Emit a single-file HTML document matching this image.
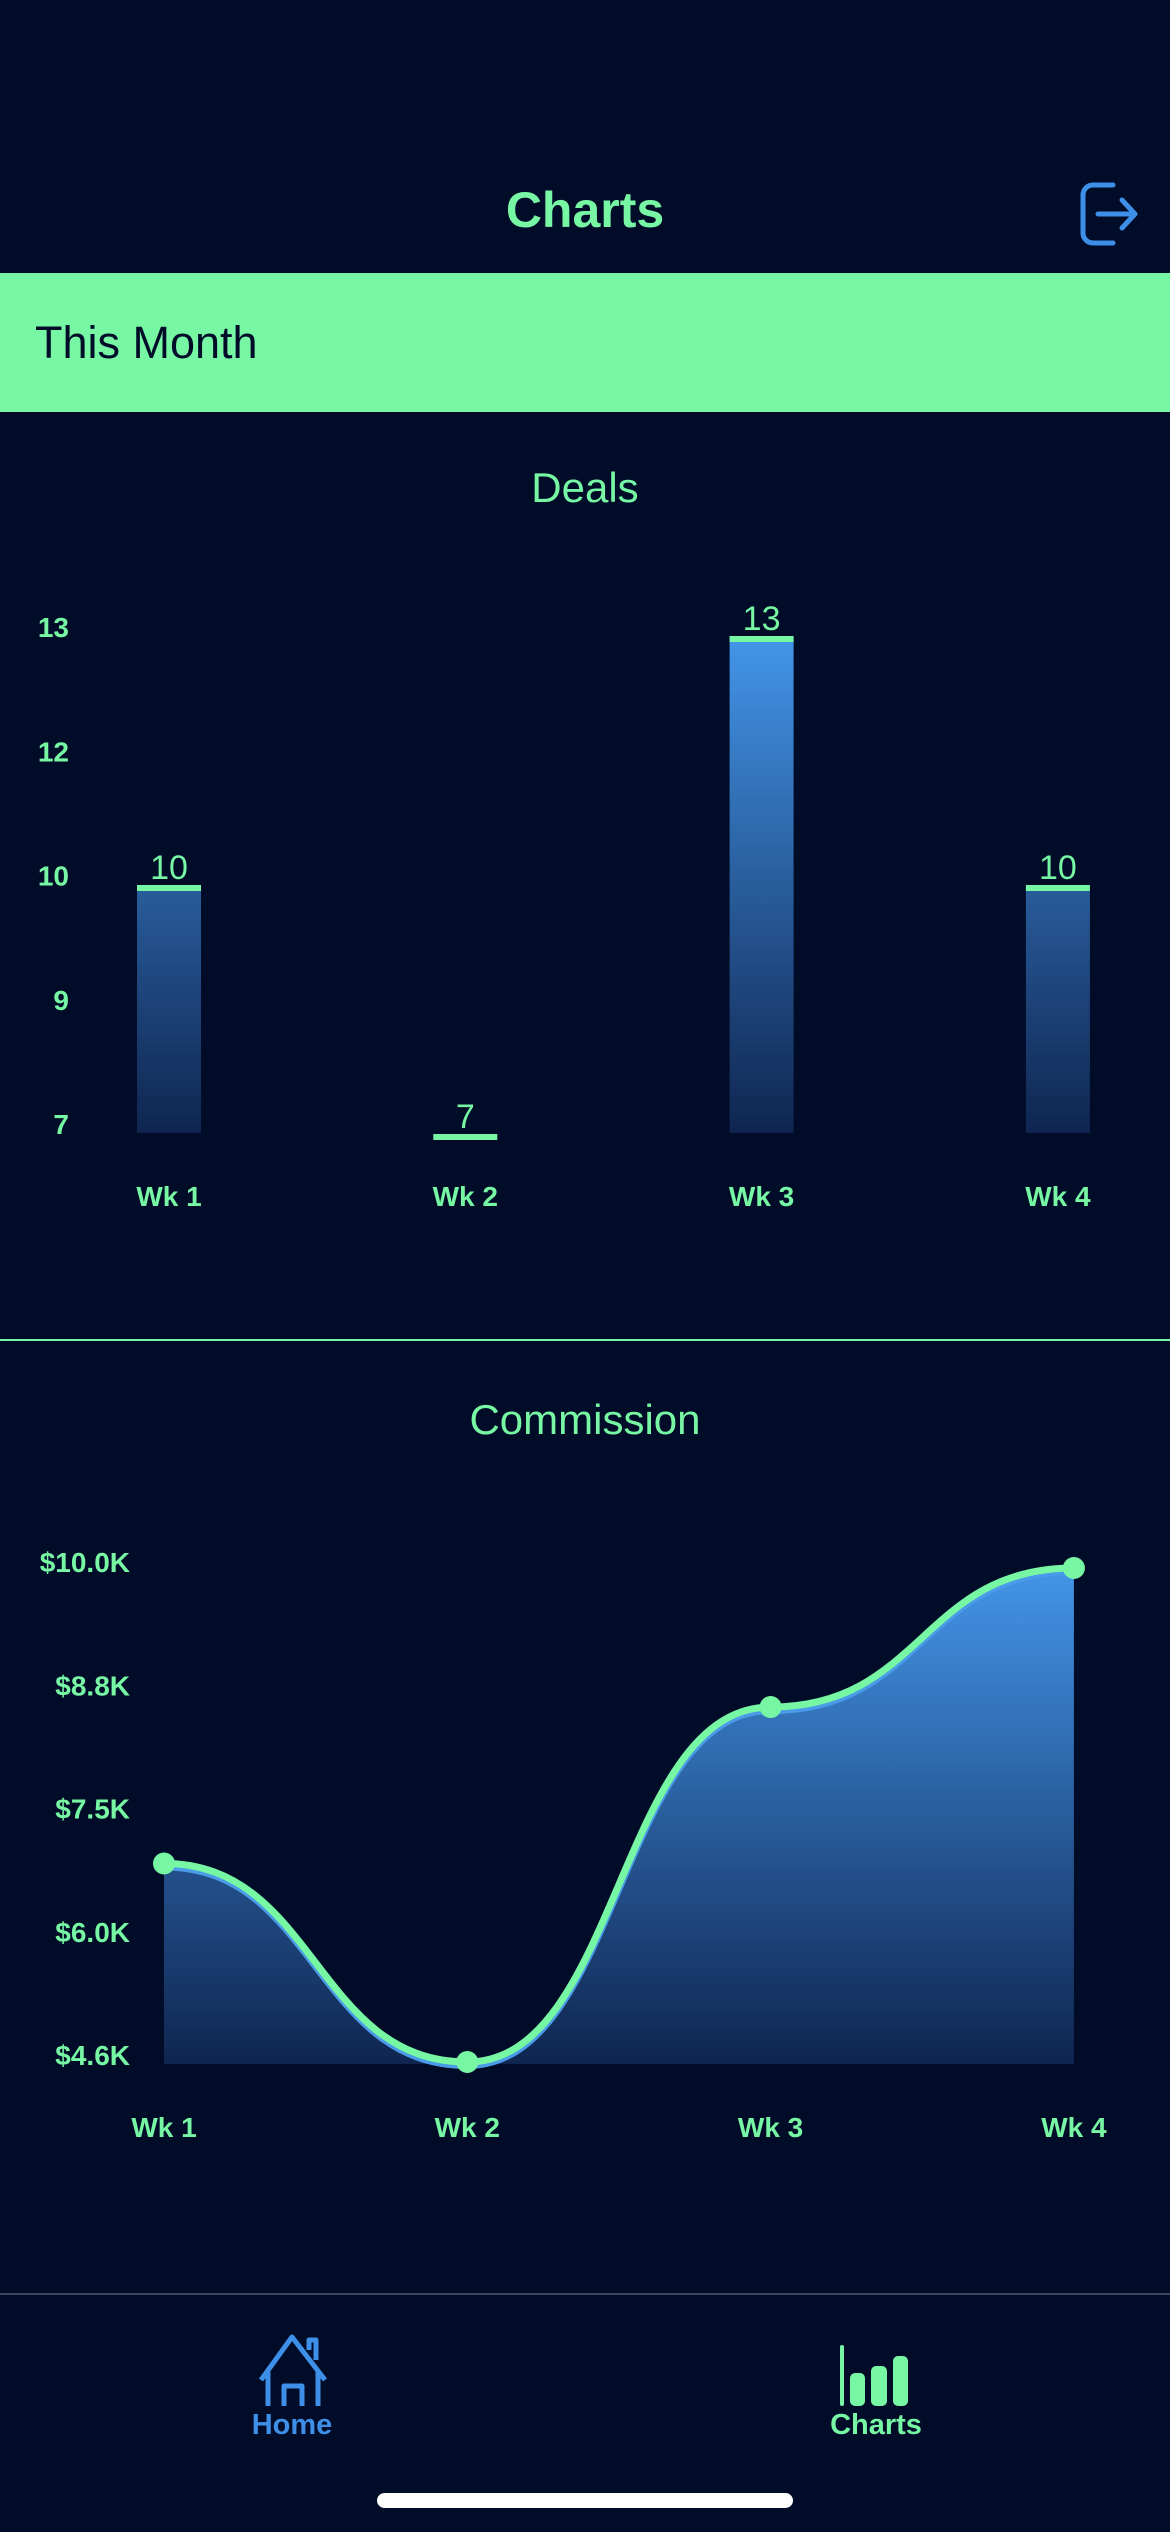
<!DOCTYPE html>
<html><head><meta charset="utf-8">
<style>
html,body{margin:0;padding:0;background:#000c28;}
body{width:1170px;height:2532px;overflow:hidden;font-family:"Liberation Sans",sans-serif;}
svg{display:block}
</style></head>
<body>
<svg id="page" width="1170" height="2532" viewBox="0 0 1170 2532" xmlns="http://www.w3.org/2000/svg">
<defs>
<linearGradient id="barGrad" gradientUnits="userSpaceOnUse" x1="0" y1="638" x2="0" y2="1133">
<stop offset="0" stop-color="#4395e8"/><stop offset="1" stop-color="#0f2550"/>
</linearGradient>
<linearGradient id="areaGrad" gradientUnits="userSpaceOnUse" x1="0" y1="1568" x2="0" y2="2064">
<stop offset="0" stop-color="#4395e8"/><stop offset="1" stop-color="#0f2550"/>
</linearGradient>
</defs>
<rect x="0" y="0" width="1170" height="2532" fill="#000c28"/>
<text x="585" y="227" text-anchor="middle" font-size="50" font-weight="bold" fill="#77f7a4">Charts</text>
<g fill="none" stroke="#3d8fe8" stroke-width="5" stroke-linecap="round" stroke-linejoin="round">
<path d="M1113 185 h-20 a10 10 0 0 0 -10 10 v38 a10 10 0 0 0 10 10 h20"/>
<path d="M1098 214 h36 M1122 200 l13 14 l-13 14"/>
</g>
<rect x="0" y="273" width="1170" height="139" fill="#77f7a4"/>
<text x="35" y="358" font-size="45" fill="#000c28">This Month</text>
<text x="585" y="502" text-anchor="middle" font-size="42" fill="#77f7a4">Deals</text>
<g id="barChart"></g>
<rect x="0" y="1339" width="1170" height="2" fill="#77f7a4"/>
<text x="585" y="1434" text-anchor="middle" font-size="42" fill="#77f7a4">Commission</text>
<g id="lineChart"></g>
<rect x="0" y="2293" width="1170" height="2" fill="#3a4560"/>
<g>
<g fill="none" stroke="#3d8fe8" stroke-width="5" stroke-linejoin="round">
<path d="M261 2380 L292 2337 L325 2380"/>
<path d="M268 2372 V2406 M318 2372 V2406"/>
<path d="M284 2406 V2386 h18 v20"/>
<path d="M309 2350 v-10 h7 v20"/>
</g>
<text x="292" y="2434" text-anchor="middle" font-size="29" font-weight="bold" fill="#3d8fe8">Home</text>
</g>
<g fill="#77f7a4">
<rect x="840" y="2345" width="4" height="61" rx="2"/>
<rect x="850" y="2373" width="15" height="33" rx="5"/>
<rect x="871" y="2366" width="16" height="40" rx="5"/>
<rect x="893" y="2356" width="15" height="50" rx="5"/>
<text x="876" y="2434" text-anchor="middle" font-size="29" font-weight="bold">Charts</text>
</g>
<rect x="377" y="2493" width="416" height="15" rx="7.5" fill="#ffffff"/>
</svg>
<script>
// ---- Deals bar chart data ----
const dealCategories = ["Wk 1","Wk 2","Wk 3","Wk 4"];
const dealValues = [10, 7, 13, 10];
const dealTickLabels = ["7","9","10","12","13"];
// ---- Commission line chart data ----
const commCategories = ["Wk 1","Wk 2","Wk 3","Wk 4"];
const commValues = [6.77, 4.6, 8.48, 10.0];
const commTickLabels = ["$4.6K","$6.0K","$7.5K","$8.8K","$10.0K"];

const NS = "http://www.w3.org/2000/svg";
function mk(tag, attrs, parent){ const e=document.createElementNS(NS,tag); for(const k in attrs) e.setAttribute(k,attrs[k]); parent.appendChild(e); return e; }

// Bar chart
(function(){
  const g = document.getElementById('barChart');
  const dMin = Math.min(...dealValues), dMax = Math.max(...dealValues);
  const yB = v => 1136 - (v - dMin) / (dMax - dMin || 1) * (1136 - 638);
  const xB = i => 169 + i * 296.3;
  const tickY = i => 1124 - i * (1124 - 627) / (dealTickLabels.length - 1);
  dealTickLabels.forEach((t,i)=>{
    const e = mk('text',{x:69,y:tickY(i)+10,'text-anchor':'end','font-size':28,'font-weight':'bold',fill:'#77f7a4'},g);
    e.textContent=t;
    
    
  });
  dealValues.forEach((v,i)=>{
    const x = xB(i)-32, top = yB(v), h = Math.max(0, 1133 - top);
    const b = mk('rect',{x:x,y:top,width:64,height:h,fill:'url(#barGrad)'},g);
    
    
    const c = mk('rect',{x:x,y:top-2,width:64,height:6,fill:'#77f7a4'},g);
    
    
    const l = mk('text',{x:xB(i),y:top-8,'text-anchor':'middle','font-size':34,fill:'#77f7a4'},g);
    l.textContent = v;
    
    
    const w = mk('text',{x:xB(i),y:1206,'text-anchor':'middle','font-size':28,'font-weight':'bold',fill:'#77f7a4'},g);
    w.textContent = dealCategories[i];
    
    
  });
})();

// Line chart
(function(){
  const g = document.getElementById('lineChart');
  const vMin = Math.min(...commValues), vMax = Math.max(...commValues);
  const yL = v => 2062 - (v - vMin) / (vMax - vMin || 1) * (2062 - 1568);
  const xL = i => 164 + i * 303.3;
  const tickY = i => 2055 - i * (2055 - 1562) / (commTickLabels.length - 1);
  commTickLabels.forEach((t,i)=>{
    const e = mk('text',{x:130,y:tickY(i)+10,'text-anchor':'end','font-size':28,'font-weight':'bold',fill:'#77f7a4'},g);
    e.textContent=t;
    
    
  });
  const pts = commValues.map((v,i)=>[xL(i), yL(v)]);
  const n = pts.length;
  let path = `M${pts[0][0]},${pts[0][1]}`;
  for(let i=0;i<n-1;i++){
    const mx=(pts[i][0]+pts[i+1][0])/2;
    path += ` C${mx},${pts[i][1]} ${mx},${pts[i+1][1]} ${pts[i+1][0]},${pts[i+1][1]}`;
  }
  const area = mk('path',{d:path+` L${pts[n-1][0]},2064 L${pts[0][0]},2064 Z`,fill:'url(#areaGrad)'},g);
  
  
  const under = mk('path',{d:path,fill:'none',stroke:'#4a9be8','stroke-width':8,transform:'translate(0,3)'},g);
  
  
  const line = mk('path',{d:path,fill:'none',stroke:'#77f7a4','stroke-width':7},g);
  
  
  pts.forEach((p,i)=>{
    const c = mk('circle',{cx:p[0],cy:p[1],r:11,fill:'#77f7a4'},g);
    
    
    const w = mk('text',{x:p[0],y:2137,'text-anchor':'middle','font-size':28,'font-weight':'bold',fill:'#77f7a4'},g);
    w.textContent = commCategories[i];
    
    
  });
})();
</script>
</body></html>
